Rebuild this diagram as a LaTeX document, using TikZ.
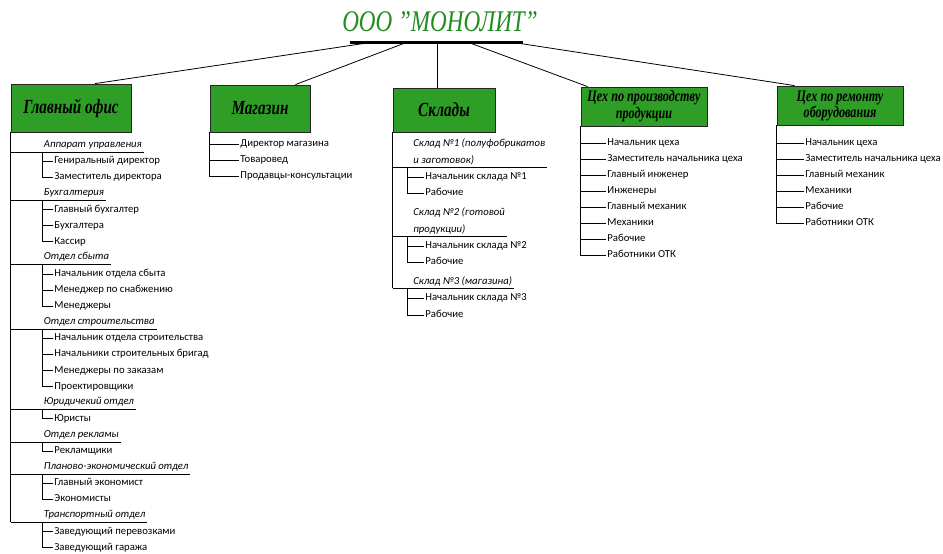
\documentclass[tikz,border=0pt]{standalone}
\usepackage{fontspec}
\setmainfont{Liberation Serif}
\newfontfamily\listfont{Carlito}
\usepackage{graphicx}
\usepackage{xcolor}
\usepackage{tikz}

\definecolor{boxgreen}{RGB}{46,158,38}
\definecolor{firmgreen}{RGB}{34,139,34}
\newcommand{\narrow}[1]{\scalebox{0.76}[1]{#1}}

\tikzset{
  unit/.style={draw=black!85, fill=boxgreen, inner sep=0pt, align=center, font=\fontsize{20}{20}\selectfont\bfseries\itshape},
  dept/.style={anchor=south west, inner xsep=1.5pt, inner ysep=1.5pt, text height=8pt, text depth=3pt, font=\listfont\fontsize{10.7}{13}\selectfont\itshape},
  shelf/.style={anchor=south west, inner xsep=1.5pt, inner ysep=1.5pt, align=left, font=\listfont\fontsize{10.7}{17}\selectfont\itshape},
  post/.style={anchor=west, inner sep=1pt, text height=7.5pt, text depth=2.5pt, font=\listfont\fontsize{10.7}{13}\selectfont},
}

\begin{document}
\begin{tikzpicture}[x=1pt, y=-1pt, line width=0.8pt]
            \useasboundingbox (0,0) rectangle (943,554);
            % firm and its bar
            \node[font=\fontsize{30}{30}\selectfont\itshape, text=firmgreen] at (440,22) (firm) {\scalebox{0.77}[1]{ООО \symbol{"22}МОНОЛИТ\symbol{"22}}};
            \coordinate (barl) at (350,42);
            \coordinate (barr) at (523,42);
            \draw[line width=3pt] (barl) -- (barr);
            \coordinate (t1) at (367,43);
            \coordinate (t2) at (405,43);
            \coordinate (t3) at (437,43);
            \coordinate (t4) at (470,43);
            \coordinate (t5) at (517,43);

            % units
            \node[unit, minimum width=120pt, minimum height=48pt] at (71,108) (office) {\narrow{Главный офис}};
            \node[unit, minimum width=100pt, minimum height=47pt] at (260,108.5) (shop) {\narrow{Магазин}};
            \node[unit, minimum width=102pt, minimum height=44pt] at (444,110) (store) {\narrow{Склады}};
            \node[unit, minimum width=126pt, minimum height=39pt, font=\fontsize{16}{17}\selectfont\bfseries\itshape] at (644,106.5) (prod) {\narrow{Цех по производству}\\\narrow{продукции}};
            \node[unit, minimum width=126pt, minimum height=39pt, font=\fontsize{16}{16}\selectfont\bfseries\itshape] at (840,105.5) (repair) {\narrow{Цех по ремонту}\\\narrow{оборудования}};
            \draw (t1) -- ([xshift=24pt]office.north);
            \draw (t2) -- ([xshift=-15pt]shop.north east);
            \draw (t3) -- (t3 |- store.north);
            \draw (t4) -- ([xshift=7pt]prod.north west);
            \draw (t5) -- ([xshift=18pt]repair.north west);

            % main office
            \node[dept] at (42,152) (oh1) {Аппарат управления};
            \node[post] at (53,161) (o11) {Гениральный директор};
            \node[post] at (53,177) (o12) {Заместитель директора};
            \node[dept] at (42,200.5) (oh2) {Бухгалтерия};
            \node[post] at (53,209.5) (o21) {Главный бухгалтер};
            \node[post] at (53,225.5) (o22) {Бухгалтера};
            \node[post] at (53,241.5) (o23) {Кассир};
            \node[dept] at (42,264.5) (oh3) {Отдел сбыта};
            \node[post] at (53,274) (o31) {Начальник отдела сбыта};
            \node[post] at (53,290) (o32) {Менеджер по снабжению};
            \node[post] at (53,306) (o33) {Менеджеры};
            \node[dept] at (42,329) (oh4) {Отдел строительства};
            \node[post] at (53,338) (o41) {Начальник отдела строительства};
            \node[post] at (53,354) (o42) {Начальники строительных бригад};
            \node[post] at (53,370.5) (o43) {Менеджеры по заказам};
            \node[post] at (53,386.5) (o44) {Проектировщики};
            \node[dept] at (42,409.5) (oh5) {Юридичекий отдел};
            \node[post] at (53,418.5) (o51) {Юристы};
            \node[dept] at (42,442) (oh6) {Отдел рекламы};
            \node[post] at (53,451) (o61) {Рекламщики};
            \node[dept] at (42,474) (oh7) {Планово-экономический отдел};
            \node[post] at (53,483) (o71) {Главный экономист};
            \node[post] at (53,499) (o72) {Экономисты};
            \node[dept] at (42,522) (oh8) {Транспортный отдел};
            \node[post] at (53,531.5) (o81) {Заведующий перевозками};
            \node[post] at (53,547.5) (o82) {Заведующий гаража};
            \draw (office.south west) -- (office.south west |- oh8.south);
            \draw (office.south west |- oh1.south) -- (oh1.south east);
            \draw (office.south west |- oh2.south) -- (oh2.south east);
            \draw (office.south west |- oh3.south) -- (oh3.south east);
            \draw (office.south west |- oh4.south) -- (oh4.south east);
            \draw (office.south west |- oh5.south) -- (oh5.south east);
            \draw (office.south west |- oh6.south) -- (oh6.south east);
            \draw (office.south west |- oh7.south) -- (oh7.south east);
            \draw (office.south west |- oh8.south) -- (oh8.south east);
            \draw (oh1.south west) |- (o11.west);
            \draw (oh1.south west) |- (o12.west);
            \draw (oh2.south west) |- (o21.west);
            \draw (oh2.south west) |- (o22.west);
            \draw (oh2.south west) |- (o23.west);
            \draw (oh3.south west) |- (o31.west);
            \draw (oh3.south west) |- (o32.west);
            \draw (oh3.south west) |- (o33.west);
            \draw (oh4.south west) |- (o41.west);
            \draw (oh4.south west) |- (o42.west);
            \draw (oh4.south west) |- (o43.west);
            \draw (oh4.south west) |- (o44.west);
            \draw (oh5.south west) |- (o51.west);
            \draw (oh6.south west) |- (o61.west);
            \draw (oh7.south west) |- (o71.west);
            \draw (oh7.south west) |- (o72.west);
            \draw (oh8.south west) |- (o81.west);
            \draw (oh8.south west) |- (o82.west);

            % shop
            \node[post] at (239,144) (m1) {Директор магазина};
            \node[post] at (239,160) (m2) {Товаровед};
            \node[post] at (239,176) (m3) {Продавцы-консультации};
            \draw (shop.south west) |- (m1.west);
            \draw (shop.south west) |- (m2.west);
            \draw (shop.south west) |- (m3.west);

            % stores
            \node[shelf] at (411.5,167) (sh1) {Склад №1 (полуфобрикатов\\и заготовок)};
            \node[post] at (424,177) (s11) {Начальник склада №1};
            \node[post] at (424,193) (s12) {Рабочие};
            \node[shelf] at (411.5,236) (sh2) {Склад №2 (готовой\\продукции)};
            \node[post] at (424,246) (s21) {Начальник склада №2};
            \node[post] at (424,262) (s22) {Рабочие};
            \node[shelf] at (411.5,288) (sh3) {Склад №3 (магазина)};
            \node[post] at (424,298) (s31) {Начальник склада №3};
            \node[post] at (424,315) (s32) {Рабочие};
            \draw (store.south west) -- (store.south west |- sh3.south);
            \draw (store.south west |- sh1.south) -- (sh1.south east);
            \draw (store.south west |- sh2.south) -- (sh2.south east);
            \draw (store.south west |- sh3.south) -- (sh3.south east);
            \draw ([xshift=-4.5pt]sh1.south west) |- (s11.west);
            \draw ([xshift=-4.5pt]sh1.south west) |- (s12.west);
            \draw ([xshift=-4.5pt]sh2.south west) |- (s21.west);
            \draw ([xshift=-4.5pt]sh2.south west) |- (s22.west);
            \draw ([xshift=-4.5pt]sh3.south west) |- (s31.west);
            \draw ([xshift=-4.5pt]sh3.south west) |- (s32.west);

            % production shop
            \node[post] at (606,143) (p1) {Начальник цеха};
            \node[post] at (606,159) (p2) {Заместитель начальника цеха};
            \node[post] at (606,175) (p3) {Главный инженер};
            \node[post] at (606,191) (p4) {Инженеры};
            \node[post] at (606,207) (p5) {Главный механик};
            \node[post] at (606,223) (p6) {Механики};
            \node[post] at (606,239) (p7) {Рабочие};
            \node[post] at (606,255) (p8) {Работники ОТК};
            \draw (prod.south west) |- (p1.west);
            \draw (prod.south west) |- (p2.west);
            \draw (prod.south west) |- (p3.west);
            \draw (prod.south west) |- (p4.west);
            \draw (prod.south west) |- (p5.west);
            \draw (prod.south west) |- (p6.west);
            \draw (prod.south west) |- (p7.west);
            \draw (prod.south west) |- (p8.west);

            % repair shop
            \node[post] at (804,143) (r1) {Начальник цеха};
            \node[post] at (804,159) (r2) {Заместитель начальника цеха};
            \node[post] at (804,175) (r3) {Главный механик};
            \node[post] at (804,191) (r4) {Механики};
            \node[post] at (804,207) (r5) {Рабочие};
            \node[post] at (804,223) (r6) {Работники ОТК};
            \draw (repair.south west) |- (r1.west);
            \draw (repair.south west) |- (r2.west);
            \draw (repair.south west) |- (r3.west);
            \draw (repair.south west) |- (r4.west);
            \draw (repair.south west) |- (r5.west);
            \draw (repair.south west) |- (r6.west);
        \end{tikzpicture}
\end{document}
